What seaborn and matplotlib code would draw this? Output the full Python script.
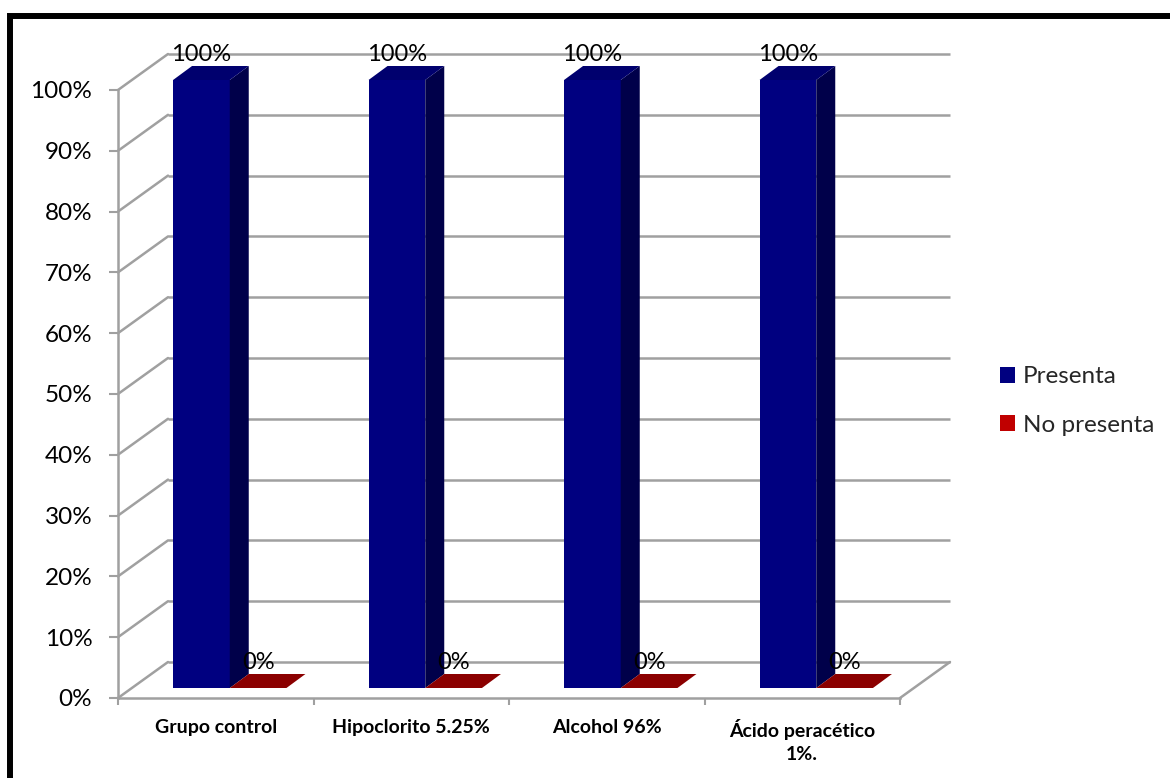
import numpy as np
import pandas as pd
import matplotlib
matplotlib.use("Agg")
import matplotlib.pyplot as plt
import seaborn as sns
from matplotlib.transforms import ScaledTranslation, IdentityTransform
from matplotlib.patches import Polygon, Rectangle, Patch
from matplotlib.lines import Line2D

# ---- data -------------------------------------------------------------
categories = ["Grupo control", "Hipoclorito 5.25%", "Alcohol 96%", "Ácido peracético\n1%."]
series = ["Presenta", "No presenta"]
presenta = [100, 100, 100, 100]
no_presenta = [0, 0, 0, 0]
yticks = [0, 10, 20, 30, 40, 50, 60, 70, 80, 90, 100]

df = pd.DataFrame({
    "Grupo": categories * 2,
    "Serie": [series[0]] * len(categories) + [series[1]] * len(categories),
    "Porcentaje": presenta + no_presenta,
})

# ---- style ------------------------------------------------------------
W, H, DPI = 1170, 778, 100
NAVY = "#000080"
NAVY_SIDE = "#00004a"
NAVY_TOP = "#00006e"
RED = "#c00000"
RED_SIDE = "#6e0000"
RED_TOP = "#8b0000"
GRID = "#a0a0a0"

sns.set_theme(style="white")
plt.rcParams["font.family"] = ["Lato", "DejaVu Sans"]

fig = plt.figure(figsize=(W / DPI, H / DPI), dpi=DPI)
ax = fig.add_axes([118 / W, (H - 698) / H, (900 - 118) / W, (698 - 90) / H])


def px(dx, dy):
    """Screen offset in pixels as a transform."""
    return ScaledTranslation(dx / DPI, dy / DPI, fig.dpi_scale_trans)


WALL = (50, 36)      # depth of the back wall
PLANE = (14, 10)     # front plane of the bars
DEPTH = (19, 14)     # thickness of the bars

sns.barplot(data=df, x="Grupo", y="Porcentaje", hue="Serie", order=categories,
            hue_order=series, palette=[NAVY, RED], width=0.58, saturation=1,
            errorbar=None, legend=False, ax=ax)

ax.set_xlim(-0.5, 3.5)
ax.set_ylim(0, 100)
ax.set_xlabel("")
ax.set_ylabel("")
ax.patch.set_visible(False)
for s in ["top", "right"]:
    ax.spines[s].set_visible(False)
for s in ["left", "bottom"]:
    ax.spines[s].set_color(GRID)
    ax.spines[s].set_linewidth(1.8)
    ax.spines[s].set_zorder(1)

ax.set_yticks(yticks, [f"{v}%" for v in yticks])
ax.tick_params(axis="y", left=True, length=6.5, width=1.5, color=GRID, pad=12,
               labelsize=17.5, labelcolor="black")
ax.set_xticks(np.arange(-0.5, 4, 1), [""] * 5)
ax.set_xticks(range(len(categories)), categories, minor=True)
ax.tick_params(axis="x", which="major", bottom=True, length=5, width=1.5, color=GRID)
ax.tick_params(axis="x", which="minor", bottom=True, length=0, pad=15,
               labelsize=14, labelcolor="black")
for lab in ax.get_xticklabels(minor=True):
    lab.set_fontweight("bold")
    lab.set_linespacing(1.45)

to_disp = ax.transData.transform
ident = IdentityTransform()

# ---- walls and floor ---------------------------------------------------
back = ax.transData + px(*WALL)
for v in yticks:
    ax.plot([-0.5, 3.5], [v, v], transform=back, color=GRID, lw=1.8,
            clip_on=False, zorder=1, solid_capstyle="butt")
    p = to_disp((-0.5, v))
    ax.add_line(Line2D([p[0], p[0] + WALL[0]], [p[1], p[1] + WALL[1]],
                       transform=ident, color=GRID, lw=1.8, clip_on=False, zorder=1))
p = to_disp((3.5, 0))
ax.add_line(Line2D([p[0], p[0] + WALL[0]], [p[1], p[1] + WALL[1]],
                   transform=ident, color=GRID, lw=1.8, clip_on=False, zorder=1))

# ---- 3D bars -----------------------------------------------------------
plane = ax.transData + px(*PLANE)
shades = [(NAVY_SIDE, NAVY_TOP), (RED_SIDE, RED_TOP)]
values = [presenta, no_presenta]
d = np.array(DEPTH)
pl = np.array(PLANE)
for container, (side_c, top_c), vals in zip(ax.containers, shades, values):
    for bar, v in zip(container.patches, vals):
        bar.set_transform(plane)
        bar.set_clip_on(False)
        bar.set_edgecolor("none")
        bar.set_zorder(3)
        x0, w, h = bar.get_x(), bar.get_width(), bar.get_height()
        b = to_disp((x0 + w, 0)) + pl
        c = to_disp((x0 + w, h)) + pl
        dd = to_disp((x0, h)) + pl
        ax.add_patch(Polygon([b, c, c + d, b + d], closed=True, transform=ident,
                             facecolor=side_c, edgecolor="none", clip_on=False, zorder=3))
        ax.add_patch(Polygon([dd, c, c + d, dd + d], closed=True, transform=ident,
                             facecolor=top_c, edgecolor="none", clip_on=False, zorder=3))
        ax.annotate(f"{v}%", xy=(x0 + w / 2, h), xycoords=plane,
                    xytext=(0, 19), textcoords="offset pixels", ha="center",
                    va="baseline", fontsize=17, color="black", zorder=5,
                    annotation_clip=False)

# ---- legend ------------------------------------------------------------
handles = [Patch(facecolor=NAVY, edgecolor="none"), Patch(facecolor=RED, edgecolor="none")]
fig.legend(handles, series, loc="center left", bbox_to_anchor=(1000 / W, 1 - 401 / H),
           frameon=False, fontsize=17.5, handlelength=0.62, handleheight=0.62,
           handletextpad=0.32, labelspacing=1.12, borderpad=0, borderaxespad=0)

# ---- outer frame -------------------------------------------------------
fig.add_artist(Rectangle((10 / W, -0.5), 2, 1.5 - 16 / H, transform=fig.transFigure,
                         fill=False, edgecolor="black", lw=4.3))

fig.savefig("out.png", dpi=DPI)
